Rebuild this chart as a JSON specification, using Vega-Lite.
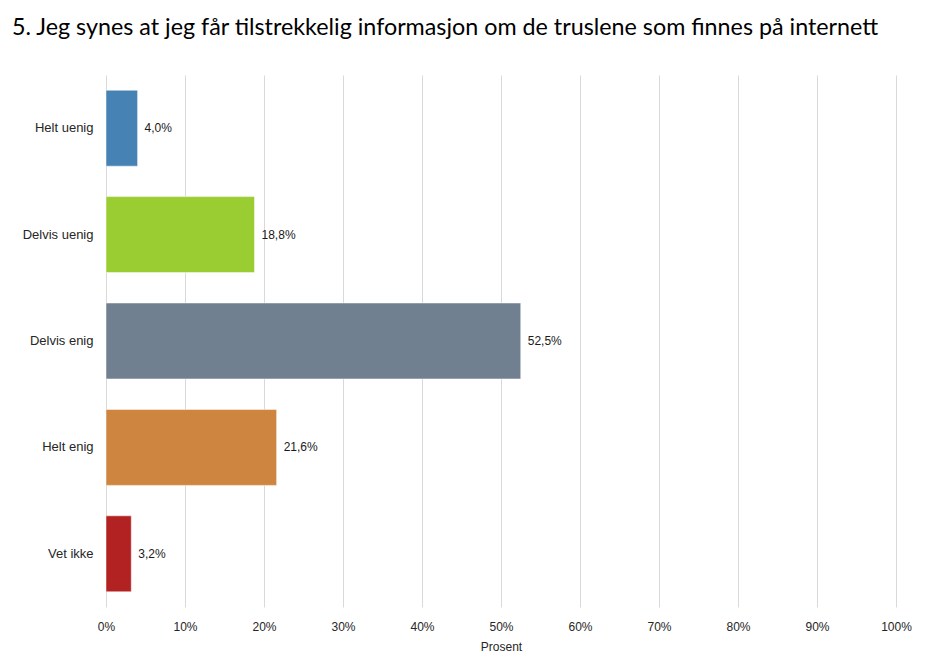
{
  "$schema": "https://vega.github.io/schema/vega-lite/v6.json",
  "autosize": {"type": "none"},
  "width": 790,
  "height": 532,
  "padding": {"left": 106, "top": 75, "right": 34, "bottom": 62},
  "background": "#ffffff",
  "config": {
    "locale": {"number": {"decimal": ",", "thousands": " ", "grouping": [3], "currency": ["", " kr"]}},
    "view": {"stroke": null},
    "font": "Liberation Sans"
  },
  "title": {
    "text": "5. Jeg synes at jeg får tilstrekkelig informasjon om de truslene som finnes på internett",
    "anchor": "start",
    "frame": "group",
    "dx": -94,
    "offset": 17,
    "baseline": "alphabetic",
    "font": "Lato",
    "fontSize": 23.3,
    "fontWeight": "normal",
    "color": "#000000"
  },
  "data": {
    "values": [
      {"svar": "Helt uenig", "andel": 0.040, "farge": "#4682B4"},
      {"svar": "Delvis uenig", "andel": 0.188, "farge": "#9ACD32"},
      {"svar": "Delvis enig", "andel": 0.525, "farge": "#708090"},
      {"svar": "Helt enig", "andel": 0.216, "farge": "#CD853F"},
      {"svar": "Vet ikke", "andel": 0.032, "farge": "#B22222"}
    ]
  },
  "encoding": {
    "y": {
      "field": "svar",
      "type": "nominal",
      "sort": null,
      "scale": {"paddingInner": 0.286, "paddingOuter": 0.143},
      "axis": {
        "title": null,
        "domain": false,
        "ticks": false,
        "labelPadding": 13,
        "labelFontSize": 13,
        "labelColor": "#262626",
        "labelFont": "Liberation Sans"
      }
    },
    "x": {
      "field": "andel",
      "type": "quantitative",
      "scale": {"domain": [0, 1]},
      "axis": {
        "title": "Prosent",
        "format": ".0%",
        "values": [0, 0.1, 0.2, 0.3, 0.4, 0.5, 0.6, 0.7, 0.8, 0.9, 1],
        "labelOverlap": false,
        "labelFlush": false,
        "domain": false,
        "ticks": false,
        "grid": true,
        "gridColor": "#d9d9d9",
        "gridWidth": 1,
        "labelPadding": 14,
        "labelFontSize": 12,
        "labelColor": "#262626",
        "labelFont": "Liberation Sans",
        "titleFontSize": 12,
        "titleFontWeight": "normal",
        "titleColor": "#262626",
        "titleFont": "Liberation Sans",
        "titlePadding": 9
      }
    }
  },
  "layer": [
    {
      "mark": {"type": "bar", "stroke": "#ffffff", "strokeWidth": 0.5},
      "encoding": {
        "color": {"field": "farge", "type": "nominal", "scale": null, "legend": null}
      }
    },
    {
      "mark": {"type": "text", "align": "left", "baseline": "middle", "dx": 7, "fontSize": 12, "color": "#1a1a1a", "font": "Liberation Sans"},
      "encoding": {
        "text": {"field": "andel", "type": "quantitative", "format": ".1%"}
      }
    }
  ]
}
